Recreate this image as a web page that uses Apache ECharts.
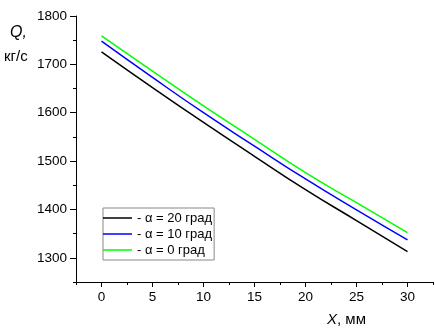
<!DOCTYPE html>
<html><head><meta charset="utf-8">
<script src="https://cdn.jsdelivr.net/npm/echarts@6/dist/echarts.min.js"></script>
<style>html,body{margin:0;padding:0;background:#fff}#c{width:435px;height:332px}</style>
</head><body><div id="c"></div>
<script>
var xValues = [0, 5, 10, 15, 20, 25, 30];
var q20 = [1726, 1652, 1580, 1510, 1441, 1377, 1313];
var q10 = [1748, 1673, 1600, 1531, 1463, 1399, 1337];
var q0  = [1759, 1686, 1614, 1545, 1476, 1414, 1352];
var seriesNames = ['α = 20 град', 'α = 10 град', 'α = 0 град'];
var xMajor = [0, 5, 10, 15, 20, 25, 30];
var xMinor = [-2.5, 2.5, 7.5, 12.5, 17.5, 22.5, 27.5, 32.5];
var yMajor = [1300, 1400, 1500, 1600, 1700, 1800];
var yMinor = [1250, 1350, 1450, 1550, 1650, 1750];

function pairs(v){ return xValues.map(function(x,i){return [x, v[i]];}); }
var font = 'Liberation Sans, Arial, sans-serif';
var chart = echarts.init(document.getElementById('c'));
var baseX = {type:'value', min:-2.5, max:32.5, position:'bottom', splitLine:{show:false}};
var baseY = {type:'value', min:1250, max:1800, position:'left', splitLine:{show:false}};
chart.setOption({
  animation:false,
  grid:{left:76, right:2, top:16, bottom:50},
  xAxis:[
    Object.assign({}, baseX, {
      axisLine:{onZero:false, lineStyle:{color:'#000', width:1}},
      axisTick:{customValues:xMajor, length:5, lineStyle:{color:'#000'}},
      axisLabel:{customValues:xMajor, color:'#000', fontSize:13.5, fontFamily:font, margin:8,
        formatter:function(v){return String(v);}}
    }),
    Object.assign({}, baseX, {
      axisLine:{show:false, onZero:false},
      axisTick:{customValues:xMinor, length:3, lineStyle:{color:'#000'}},
      axisLabel:{show:false}
    })
  ],
  yAxis:[
    Object.assign({}, baseY, {
      axisLine:{show:true, onZero:false, lineStyle:{color:'#000', width:1}},
      axisTick:{show:true, customValues:yMajor, length:6, lineStyle:{color:'#000'}},
      axisLabel:{customValues:yMajor, color:'#000', fontSize:13.5, fontFamily:font, margin:9,
        formatter:function(v){return String(v);}}
    }),
    Object.assign({}, baseY, {
      axisLine:{show:false, onZero:false},
      axisTick:{show:true, customValues:yMinor, length:3, lineStyle:{color:'#000'}},
      axisLabel:{show:false}
    })
  ],
  legend:{
    orient:'vertical', left:103, top:208,
    padding:[3.5,2,3.5,0], itemWidth:29, itemHeight:1.5, itemGap:3, icon:'rect',
    borderColor:'#888', borderWidth:1,
    textStyle:{color:'#000', fontSize:13, lineHeight:13, fontFamily:font},
    formatter:function(n){return '- ' + n;},
    data:seriesNames
  },
  graphic:[
    {type:'text', left:10, top:25, style:{text:'Q,', font:'italic 16px ' + font, fill:'#000'}},
    {type:'text', left:4, top:49, style:{text:'кг/с', font:'15px ' + font, fill:'#000'}},
    {type:'text', left:327, top:312, style:{
      text:'{i|X}{n|, мм}',
      rich:{i:{font:'italic 15px ' + font, fill:'#000'}, n:{font:'15px ' + font, fill:'#000'}}
    }}
  ],
  series:[
    {name:seriesNames[0], type:'line', smooth:true, symbol:'none', data:pairs(q20), lineStyle:{color:'#000000', width:1.5}, itemStyle:{color:'#000000'}},
    {name:seriesNames[1], type:'line', smooth:true, symbol:'none', data:pairs(q10), lineStyle:{color:'#0000ff', width:1.5}, itemStyle:{color:'#0000ff'}},
    {name:seriesNames[2], type:'line', smooth:true, symbol:'none', data:pairs(q0), lineStyle:{color:'#00ff00', width:1.5}, itemStyle:{color:'#00ff00'}}
  ]
});
</script></body></html>
